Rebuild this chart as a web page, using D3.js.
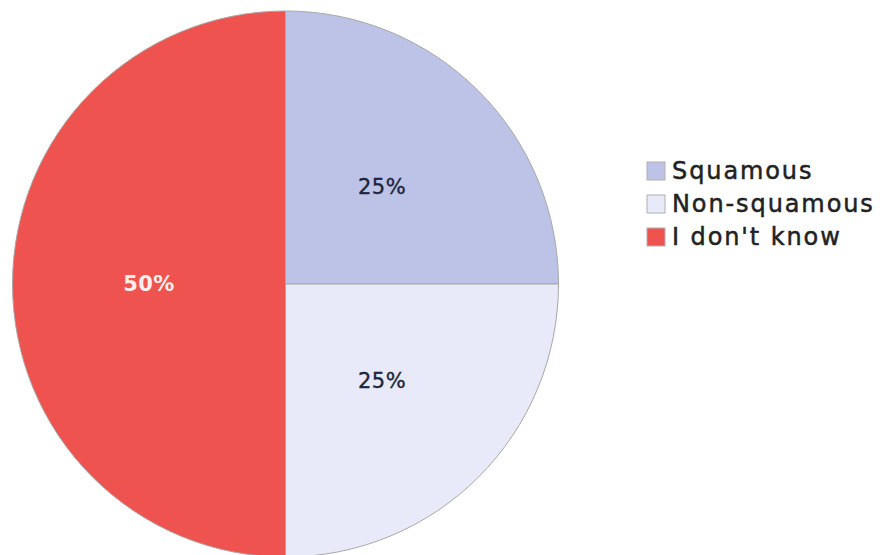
<!DOCTYPE html>
<html>
<head>
<meta charset="utf-8">
<script src="https://cdn.jsdelivr.net/npm/d3@7"></script>
<style>
  html, body { margin: 0; padding: 0; background: #ffffff; }
  svg { display: block; }
</style>
</head>
<body>
<svg id="chart" width="884" height="555"></svg>
<script>
// Answer categories and their shares (percent)
const categories = ["Squamous", "Non-squamous", "I don't know"];
const shares = [25, 25, 50];
const sliceColors = ["#bcc3e7", "#e8eaf9", "#ef5350"];
const labelColors = ["#1c2540", "#1c2540", "#fdeeee"];

const width = 884, height = 555;
const cx = 285.5, cy = 284, radius = 273;
const fontFamily = "'DejaVu Sans', 'Open Sans', sans-serif";

const svg = d3.select("#chart");

const data = categories.map((c, i) => ({ name: c, value: shares[i], color: sliceColors[i], label: labelColors[i] }));

const pie = d3.pie().sort(null).value(d => d.value);
const arc = d3.arc().innerRadius(0).outerRadius(radius);
const labelArc = d3.arc().innerRadius(radius * 0.5).outerRadius(radius * 0.5);

const g = svg.append("g").attr("transform", `translate(${cx},${cy})`);

const arcs = pie(data);

g.selectAll("path.slice")
  .data(arcs)
  .join("path")
  .attr("class", "slice")
  .attr("d", arc)
  .attr("fill", d => d.data.color)
  .attr("stroke", "#a8a8a8")
  .attr("stroke-width", 1);

g.selectAll("text.pct")
  .data(arcs)
  .join("text")
  .attr("class", "pct")
  .attr("transform", d => `translate(${labelArc.centroid(d)})`)
  .attr("text-anchor", "middle")
  .attr("dominant-baseline", "central")
  .attr("font-family", fontFamily)
  .attr("font-size", 21)
  .attr("letter-spacing", 0.5)
  .attr("font-weight", d => d.data.value >= 50 ? "bold" : "normal")
  .attr("fill", d => d.data.label)
  .attr("stroke", d => d.data.value >= 50 ? "none" : d.data.label)
  .attr("stroke-width", 0.35)
  .text(d => d.data.value + "%");

// Legend
const legend = svg.append("g").attr("transform", "translate(647,171)");
const rowGap = 33;
const items = legend.selectAll("g.item")
  .data(data)
  .join("g")
  .attr("class", "item")
  .attr("transform", (d, i) => `translate(0,${i * rowGap})`);

items.append("rect")
  .attr("x", 0).attr("y", -9)
  .attr("width", 18).attr("height", 18)
  .attr("fill", d => d.color)
  .attr("stroke", "#b0b0b0")
  .attr("stroke-width", 1);

items.append("text")
  .attr("x", 25).attr("y", 0)
  .attr("dominant-baseline", "central")
  .attr("font-family", fontFamily)
  .attr("font-size", 24)
  .attr("letter-spacing", 1.9)
  .attr("fill", "#222222")
  .attr("stroke", "#222222")
  .attr("stroke-width", 0.5)
  .text(d => d.name);
</script>
</body>
</html>
